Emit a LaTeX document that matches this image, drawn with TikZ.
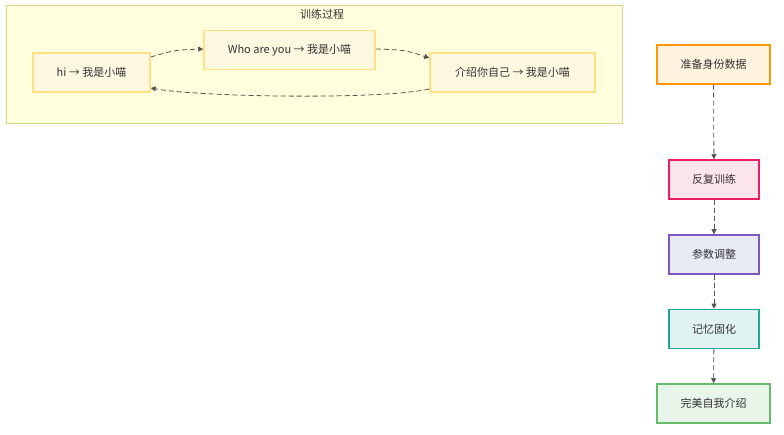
\documentclass[tikz,border=0pt]{standalone}
\usepackage{fontspec}
\setmainfont{Noto Sans CJK SC}
\usetikzlibrary{arrows.meta}
\definecolor{clfill}{HTML}{FFFFDE}
\definecolor{cldraw}{HTML}{D6D68A}
\definecolor{infill}{HTML}{FFF8E1}
\definecolor{indraw}{HTML}{FFE082}
\definecolor{edgec}{HTML}{555555}
\definecolor{prepd}{HTML}{FF9800}\definecolor{prepf}{HTML}{FFF3E0}
\definecolor{traind}{HTML}{E91E63}\definecolor{trainf}{HTML}{FCE4EC}
\definecolor{tuned}{HTML}{7E57C2}\definecolor{tunef}{HTML}{E8EAF6}
\definecolor{memd}{HTML}{26A69A}\definecolor{memf}{HTML}{E0F2F1}
\definecolor{doned}{HTML}{66BB6A}\definecolor{donef}{HTML}{E8F5E9}
\begin{document}
\begin{tikzpicture}[x=1pt, y=-1pt, every node/.style={font=\fontsize{11}{13}\selectfont, text=black!80},
    n/.style={draw=indraw, fill=infill, line width=1.5pt, minimum height=39pt, inner xsep=6pt},
    s/.style={draw=#1d, fill=#1f, line width=1.5pt, minimum height=39pt},
    e/.style={draw=edgec, dashed, dash pattern=on 5pt off 3pt, -{Triangle[length=5pt,width=5pt]}, line width=.8pt}]
        \useasboundingbox (0,0) rectangle (784,435);
        \draw[fill=clfill, draw=cldraw, line width=1pt] (6,6) rectangle (622,124);
        \node (title) at (322,14) {训练过程};

        \node[n, minimum width=117pt] (hi) at (91.5,72.5) {hi → 我是小喵};
        \node[n, minimum width=171pt] (who) at (289.5,50) {Who are you → 我是小喵};
        \node[n, minimum width=165pt] (intro) at (512.5,72.5) {介绍你自己 → 我是小喵};

        \draw[e] (hi.east |- 0,57) .. controls (175,50) .. (who.west |- 0,49);
        \draw[e] (who.east |- 0,49) .. controls (405,50) .. (intro.west |- 0,58);
        \draw[e] (intro.west |- 0,89) .. controls (380,100) and (200,97) .. (hi.east |- 0,88);

        \node[s=prep, minimum width=113pt] (prep) at (713.5,64.5) {准备身份数据};
        \node[s=train, minimum width=90pt] (train) at (714,179.5) {反复训练};
        \node[s=tune, minimum width=90pt] (tune) at (714,254.5) {参数调整};
        \node[s=mem, minimum width=90pt] (mem) at (714,329) {记忆固化};
        \node[s=done, minimum width=113pt] (done) at (713.5,403.5) {完美自我介绍};

        \draw[e] (prep) -- (train);
        \draw[e] (train) -- (tune);
        \draw[e] (tune) -- (mem);
        \draw[e] (mem) -- (done);
    \end{tikzpicture}
\end{document}
